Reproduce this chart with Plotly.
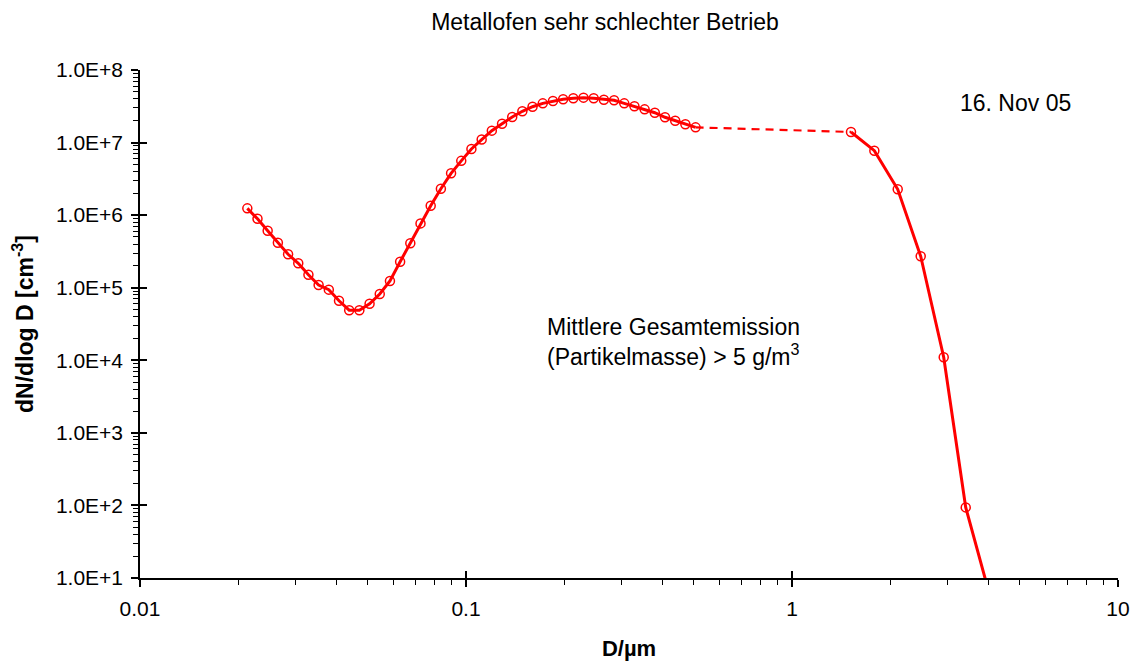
import plotly.graph_objects as go

# Particle size distribution, fine range (µm) and number concentration dN/dlogD (cm^-3)
d_fine = [0.02134, 0.02293, 0.02464, 0.02648, 0.02846, 0.03058, 0.03286, 0.03531,
          0.03795, 0.04078, 0.04382, 0.04709, 0.05061, 0.05438, 0.05844, 0.06280,
          0.06748, 0.07252, 0.07793, 0.08374, 0.08999, 0.09670, 0.1039, 0.1117,
          0.1200, 0.1290, 0.1386, 0.1489, 0.1600, 0.1720, 0.1848, 0.1986,
          0.2134, 0.2293, 0.2464, 0.2648, 0.2846, 0.3058, 0.3286, 0.3531,
          0.3795, 0.4078, 0.4382, 0.4709, 0.5061]
n_fine = [1.24e6, 8.9e5, 6.1e5, 4.17e5, 2.89e5, 2.17e5, 1.51e5, 1.09e5,
          9.4e4, 6.6e4, 4.9e4, 4.9e4, 6.0e4, 8.2e4, 1.24e5, 2.28e5,
          4.09e5, 7.7e5, 1.35e6, 2.31e6, 3.77e6, 5.6e6, 8.15e6, 1.10e7,
          1.46e7, 1.82e7, 2.25e7, 2.70e7, 3.12e7, 3.47e7, 3.74e7, 3.95e7,
          4.07e7, 4.16e7, 4.07e7, 3.90e7, 3.82e7, 3.47e7, 3.16e7, 2.87e7,
          2.58e7, 2.23e7, 2.0e7, 1.79e7, 1.62e7]

# Coarse range
d_coarse = [1.517, 1.789, 2.110, 2.482, 2.920, 3.411, 4.013]
n_coarse = [1.40e7, 7.73e6, 2.27e6, 2.71e5, 1.10e4, 94, 6.5]

y_tickvals = [1e1, 1e2, 1e3, 1e4, 1e5, 1e6, 1e7, 1e8]
y_ticktext = ["1.0E+1", "1.0E+2", "1.0E+3", "1.0E+4", "1.0E+5", "1.0E+6", "1.0E+7", "1.0E+8"]
x_tickvals = [0.01, 0.1, 1, 10]
x_ticktext = ["0.01", "0.1", "1", "10"]

RED = "#FF0000"
FONT = "Liberation Sans, Arial, sans-serif"

fig = go.Figure()

# dashed bridge between the two measurement ranges
fig.add_trace(go.Scatter(
    x=[d_fine[-1], d_coarse[0]], y=[n_fine[-1], n_coarse[0]],
    mode="lines", line=dict(color=RED, width=2.2, dash="8px,6px"),
    showlegend=False, hoverinfo="skip"))

for xs, ys in ((d_fine, n_fine), (d_coarse, n_coarse)):
    fig.add_trace(go.Scatter(
        x=xs, y=ys, mode="lines+markers",
        line=dict(color=RED, width=3),
        marker=dict(symbol="circle-open", size=9, color=RED, line=dict(width=1.5, color=RED)),
        showlegend=False))

axis_common = dict(showgrid=False, zeroline=False, type="log", automargin=False,
                   linecolor="black", linewidth=1.5, tickcolor="black", tickwidth=1.5)

fig.update_layout(
    width=1137, height=664, autosize=False,
    margin=dict(l=140, r=19, t=70, b=86),
    paper_bgcolor="white", plot_bgcolor="white",
    font=dict(family=FONT, size=22, color="black"),
    title=dict(text="Metallofen sehr schlechter Betrieb", x=605 / 1137, xanchor="center",
               y=1 - 22 / 664, yanchor="middle", font=dict(size=23)),
    xaxis=dict(**axis_common, range=[-2, 1], showline=True,
               ticks="outside", ticklen=7, ticklabelstandoff=4,
               tickvals=x_tickvals, ticktext=x_ticktext, tickfont=dict(size=21),
               minor=dict(ticks="outside", ticklen=5, dtick="D1", tickcolor="black", tickwidth=1.2),
               title=dict(text="<b>D/µm</b>", font=dict(size=22), standoff=22)),
    yaxis=dict(**axis_common, range=[1, 8], showline=True,
               ticks="outside", ticklen=7, ticklabelstandoff=4,
               tickvals=y_tickvals, ticktext=y_ticktext, tickfont=dict(size=21),
               minor=dict(ticks="outside", ticklen=5, dtick="D1", tickcolor="black", tickwidth=1.2),
               title=dict(text="<b>dN/dlog D [cm<sup>-3</sup>]</b>", font=dict(size=23), standoff=16)),
    # inner halves of the crossing major ticks
    xaxis2=dict(**axis_common, range=[-2, 1], overlaying="x", anchor="y", side="bottom",
                showline=False, ticks="inside", ticklen=7, tickvals=x_tickvals,
                showticklabels=False),
    yaxis2=dict(**axis_common, range=[1, 8], overlaying="y", anchor="x", side="left",
                showline=False, ticks="inside", ticklen=7, tickvals=y_tickvals,
                showticklabels=False),
    annotations=[
        dict(text="16. Nov 05", xref="paper", yref="paper",
             x=(958 - 140) / 978, y=1 - (103 - 70) / 508, xanchor="left", yanchor="middle",
             showarrow=False, font=dict(size=23)),
        dict(text="Mittlere Gesamtemission<br>(Partikelmasse) > 5 g/m<sup>3</sup>",
             xref="paper", yref="paper", align="left",
             x=(545 - 140) / 978, y=1 - (342 - 70) / 508, xanchor="left", yanchor="middle",
             showarrow=False, font=dict(size=23)),
    ],
)

# empty trace so the overlay axes are drawn
fig.add_trace(go.Scatter(x=[0.01], y=[10], xaxis="x2", yaxis="y2", mode="markers",
                         marker=dict(opacity=0), showlegend=False, hoverinfo="skip"))

fig.write_html("out.html")
